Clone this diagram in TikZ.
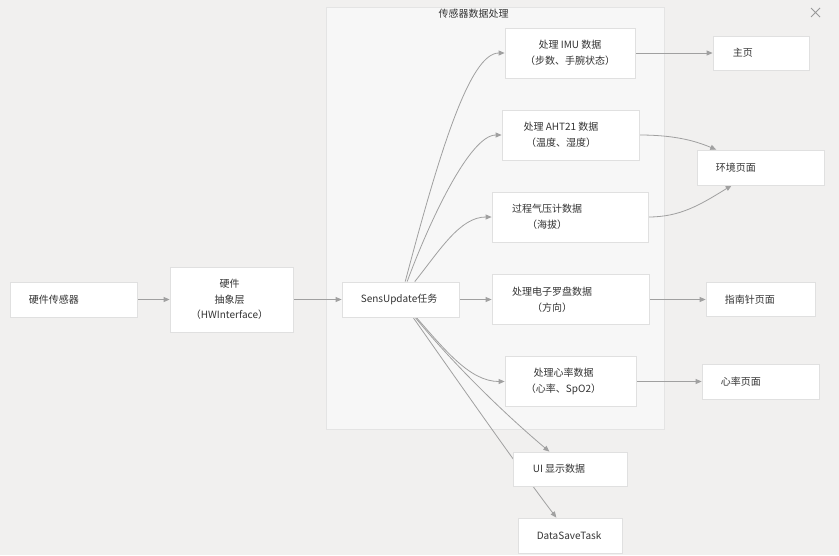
\documentclass[tikz,border=0pt]{standalone}
\usepackage{fontspec}
\setmainfont{Noto Sans CJK SC}
\usetikzlibrary{arrows.meta,backgrounds}
\definecolor{pagebg}{RGB}{241,240,239}
\definecolor{groupbg}{RGB}{247,247,247}
\definecolor{groupline}{RGB}{228,228,228}
\definecolor{boxline}{RGB}{224,224,224}
\definecolor{flowgray}{RGB}{160,160,160}
\definecolor{txtgray}{RGB}{51,51,51}

\begin{document}
\begin{tikzpicture}[x=1pt,y=-1pt,>={Triangle[length=6pt,width=5pt]},
    box/.style={draw=boxline,fill=white,line width=0.8pt,inner sep=0pt},
    txt/.style={inner sep=0pt,align=center,text=txtgray,font=\fontsize{10pt}{15.5pt}\selectfont},
    flow/.style={->,draw=flowgray,line width=0.8pt}]
    \useasboundingbox (0,0) rectangle (839,555);
    \node[txt] (grouptitle) at (473.5,14) {传感器数据处理};
    % input chain
    \node[box,minimum width=127pt,minimum height=35pt,label={[txt,anchor=west,xshift=19pt]west:硬件传感器}] (sensor) at (73.5,299.5) {};
    \node[box,minimum width=123pt,minimum height=65pt,label={[txt,anchor=center,xshift=-2pt]center:硬件\\抽象层\\（HWInterface）}] (hal) at (231.5,299.5) {};
    \node[box,minimum width=117pt,minimum height=35pt,label={[txt,anchor=west,xshift=19pt]west:SensUpdate任务}] (su) at (400.5,299.5) {};
    % processing steps
    \node[box,minimum width=130pt,minimum height=50pt,label={[txt,anchor=center]center:处理 IMU 数据\\（步数、手腕状态）}] (imu) at (570,53) {};
    \node[box,minimum width=137pt,minimum height=50pt,label={[txt,anchor=center,xshift=-9.5pt]center:处理 AHT21 数据\\（温度、湿度）}] (aht) at (570.5,135) {};
    \node[box,minimum width=156pt,minimum height=50pt,label={[txt,anchor=center,xshift=-23pt]center:过程气压计数据\\（海拔）}] (baro) at (570,217) {};
    \node[box,minimum width=157pt,minimum height=50pt,label={[txt,anchor=center,xshift=-18.5pt]center:处理电子罗盘数据\\（方向）}] (cproc) at (570.5,299.5) {};
    \node[box,minimum width=131pt,minimum height=50pt,label={[txt,anchor=center,xshift=-7pt]center:处理心率数据\\（心率、SpO2）}] (hrproc) at (570.5,381.5) {};
    \node[box,minimum width=114pt,minimum height=34pt,label={[txt,anchor=west,xshift=20pt]west:UI 显示数据}] (ui) at (570,469) {};
    \node[box,minimum width=104pt,minimum height=35pt,label={[txt,anchor=west,xshift=19pt]west:DataSaveTask}] (dst) at (570,535.5) {};
    % pages
    \node[box,minimum width=96pt,minimum height=34pt,label={[txt,anchor=west,xshift=20pt]west:主页}] (home) at (761,53) {};
    \node[box,minimum width=127pt,minimum height=35pt,label={[txt,anchor=west,xshift=19pt]west:环境页面}] (env) at (760.5,167.5) {};
    \node[box,minimum width=109pt,minimum height=34pt,label={[txt,anchor=west,xshift=19pt]west:指南针页面}] (cpage) at (760.5,299.5) {};
    \node[box,minimum width=117pt,minimum height=35pt,label={[txt,anchor=west,xshift=19pt]west:心率页面}] (hrpage) at (760.5,381.5) {};
    \draw[gray!80,line width=0.8pt] (811,8) -- (820,17) (820,8) -- (811,17);
    \begin{scope}[on background layer]
      \fill[pagebg] (0,0) rectangle (839,555);
      \filldraw[fill=groupbg,draw=groupline,line width=0.8pt] (326,7) rectangle (664,429);
      \draw[flow] (sensor) -- (hal);
      \draw[flow] (hal) -- (su);
      \draw[flow] (su) .. controls (440,150) and (470,53) .. (imu);
      \draw[flow] (su) .. controls (430,220) and (470,135) .. (aht);
      \draw[flow] (su) .. controls (440,250) and (460,217) .. (baro);
      \draw[flow] (su) -- (cproc);
      \draw[flow] (su) .. controls (445,350) and (470,381.5) .. (hrproc);
      \draw[flow] (su) .. controls (450,360) and (500,410) .. (ui);
      \draw[flow] (su) .. controls (450,370) and (520,470) .. (dst);
      \draw[flow] (imu) -- (home);
      \draw[flow] (aht) .. controls (680,135) and (700,143) .. (env);
      \draw[flow] (baro) .. controls (680,217) and (700,205) .. (env);
      \draw[flow] (cproc) -- (cpage);
      \draw[flow] (hrproc) -- (hrpage);
    \end{scope}
\end{tikzpicture}
\end{document}
